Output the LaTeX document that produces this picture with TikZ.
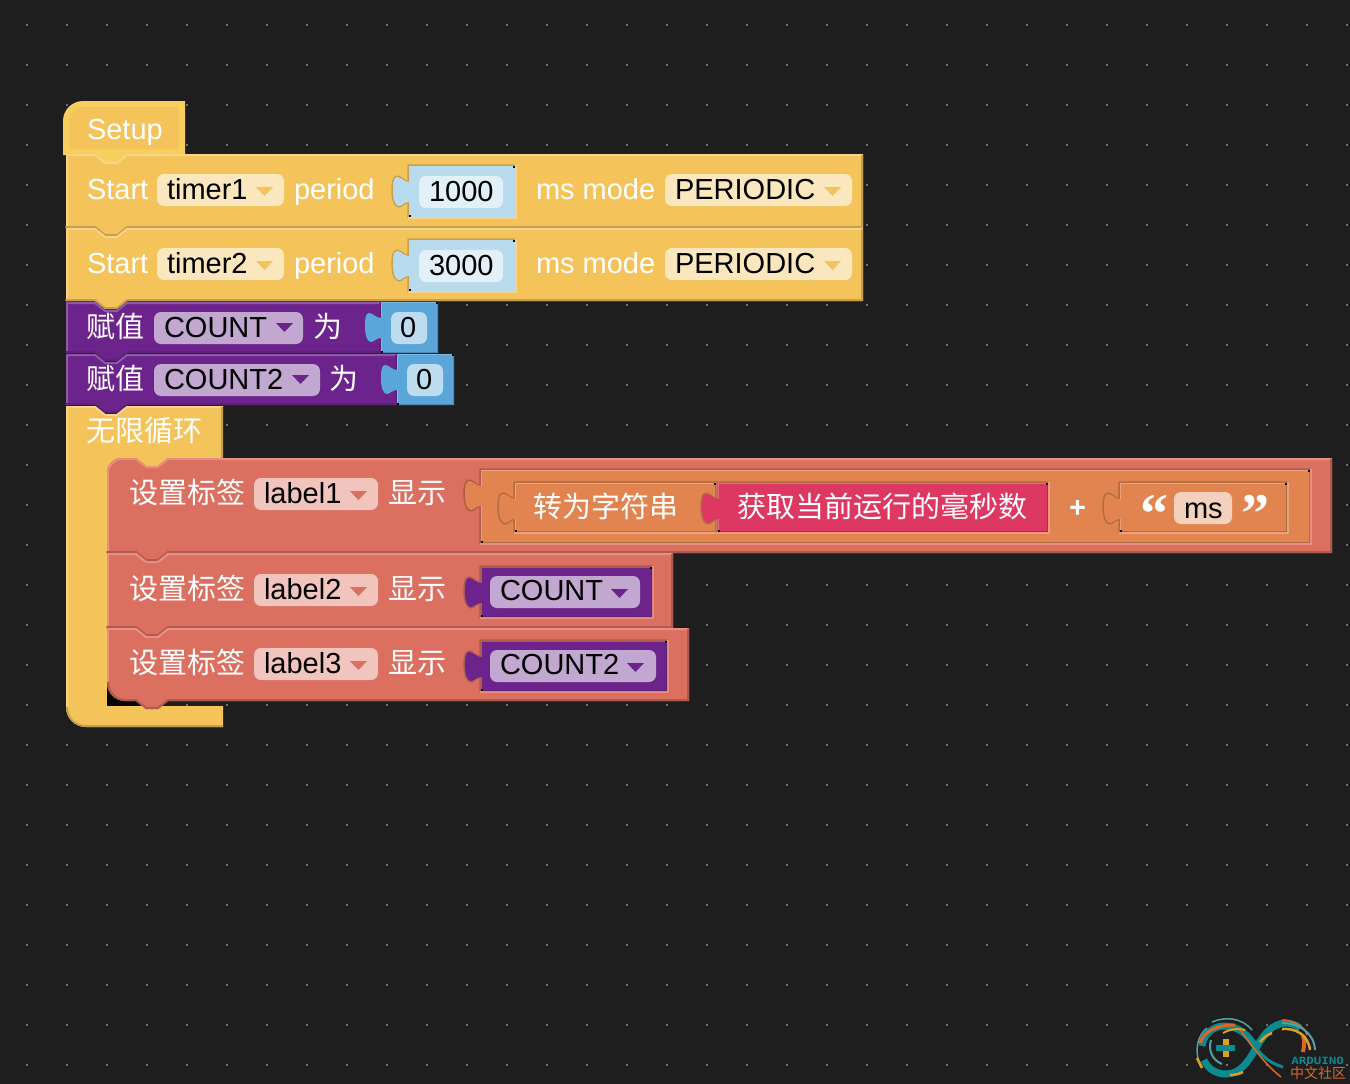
\documentclass[tikz,border=0pt]{standalone}
\usepackage{fontspec}
\setmainfont{Liberation Sans}
\newfontfamily\cjkf{Noto Sans CJK SC}
\newfontfamily\quotef{Liberation Serif}
\newfontfamily\logof{DejaVu Sans Mono}
\definecolor{bgc}{HTML}{1E1E1E}
\definecolor{dotc}{HTML}{707070}
\definecolor{yel}{HTML}{F4C35A}
\definecolor{yell}{HTML}{F8D48A}
\definecolor{yeld}{HTML}{C6A051}
\definecolor{yelring}{HTML}{F7CF5E}
\definecolor{pur}{HTML}{6C238B}
\definecolor{purl}{HTML}{8C5AA6}
\definecolor{purd}{HTML}{5C2378}
\definecolor{pfld}{HTML}{C2A7D1}
\definecolor{blu}{HTML}{5AA6D9}
\definecolor{blul}{HTML}{7CB8E2}
\definecolor{bluf}{HTML}{BDDCF0}
\definecolor{blud}{HTML}{4A87B4}
\definecolor{lblu}{HTML}{B8DBEE}
\definecolor{lbluf}{HTML}{E2F0F9}
\definecolor{red1}{HTML}{DB6F60}
\definecolor{redl}{HTML}{E79082}
\definecolor{redd}{HTML}{AF5A4E}
\definecolor{redf}{HTML}{F1C4BE}
\definecolor{org}{HTML}{E1844F}
\definecolor{orgl}{HTML}{EBA47E}
\definecolor{orgd}{HTML}{B06D43}
\definecolor{orgf}{HTML}{F4D1BC}
\definecolor{cri}{HTML}{DC3862}
\definecolor{cril}{HTML}{E8678A}
\definecolor{crid}{HTML}{AE2C4E}
\definecolor{yfld}{HTML}{FBE7BE}
\definecolor{lteal}{HTML}{0B8A8F}
\definecolor{lteal2}{HTML}{4FA3A8}
\definecolor{lorg}{HTML}{D9682A}
\definecolor{lgold}{HTML}{D9A021}
\tikzset{
  wt/.style={inner sep=0pt,outer sep=0pt,anchor=base west,text=white,font=\fontsize{29}{30}\selectfont},
  bk/.style={inner sep=0pt,outer sep=0pt,anchor=base west,text=black,font=\fontsize{29}{30}\selectfont},
  zh/.style={inner sep=0pt,outer sep=0pt,anchor=base west,text=white,font=\cjkf\fontsize{29}{30}\selectfont},
  edge/.style={line width=2pt,line join=round},
  griddot/.style={fill=dotc}
}
% stack block: x1,y1,x2,y2,top-left radius,bottom-left radius,fill,light,dark
\newcommand{\stackblock}[9]{%
  \fill[#7] (#1,#2+#5) .. controls (#1,#2+0.45*#5) and (#1+0.45*#5,#2) .. (#1+#5,#2)
    -- (#1+29,#2) -- (#1+39,#2+8) -- (#1+51,#2+8) -- (#1+61,#2) -- (#3,#2) -- (#3,#4)
    -- (#1+61,#4) -- (#1+51,#4+8) -- (#1+39,#4+8) -- (#1+29,#4)
    -- (#1+#6,#4) .. controls (#1+0.45*#6,#4) and (#1,#4-0.45*#6) .. (#1,#4-#6) -- cycle;
  \draw[edge,#8] (#1+1,#4-#6) -- (#1+1,#2+1+#5) .. controls (#1+1,#2+1+0.45*#5) and (#1+1+0.45*#5,#2+1) .. (#1+1+#5,#2+1)
    -- (#1+29,#2+1) -- (#1+39,#2+9) -- (#1+51,#2+9) -- (#1+61,#2+1) -- (#3-1,#2+1);
  \draw[edge,#9] (#3-1,#2+1) -- (#3-1,#4-1) -- (#1+61,#4-1) -- (#1+51,#4+7) -- (#1+39,#4+7) -- (#1+29,#4-1)
    -- (#1+#6,#4-1) .. controls (#1+1+0.45*#6,#4-1) and (#1+1,#4-1-0.45*#6) .. (#1+1,#4-1-#6);
}
\newcommand{\tabshape}[2]{%
  -- (#1,#2+16) .. controls (#1-5,#2+16) and (#1-8,#2+11) .. (#1-12,#2+11)
  .. controls (#1-16,#2+11) and (#1-16,#2+19) .. (#1-16,#2+25)
  .. controls (#1-16,#2+33) and (#1-14,#2+40) .. (#1-10,#2+40)
  .. controls (#1-7,#2+40) and (#1-5,#2+36) .. (#1,#2+36)}
% parent's hole edges: x1,y1,x2,y2,parent light,parent dark
\newcommand{\hole}[6]{%
  \draw[line width=1.6pt,line join=round,#6] (#1-0.8,#4+0.8) -- (#1-0.8,#2+36.5) .. controls (#1-5,#2+36.5) and (#1-7,#2+40.8) .. (#1-10,#2+40.8)
    .. controls (#1-14.5,#2+40.8) and (#1-16.8,#2+33) .. (#1-16.8,#2+25)
    .. controls (#1-16.8,#2+19) and (#1-16.8,#2+10.2) .. (#1-12,#2+10.2)
    .. controls (#1-8,#2+10.2) and (#1-5,#2+15.5) .. (#1-0.8,#2+15.5) -- (#1-0.8,#2-0.8) -- (#3+0.8,#2-0.8);
  \draw[line width=1.6pt,line join=round,#5] (#3+0.8,#2-0.8) -- (#3+0.8,#4+0.8) -- (#1-0.8,#4+0.8);
}
% value block: x1,y1,x2,y2,fill,light,dark
\newcommand{\valblock}[7]{%
  \fill[#5] (#1,#2) \tabshape{#1}{#2} -- (#1,#4) -- (#3,#4) -- (#3,#2) -- cycle;
  \draw[line width=1.2pt,#6] (#1+0.6,#4) -- (#1+0.6,#2+36);
  \draw[line width=1.2pt,#6] (#1+0.6,#2+16) -- (#1+0.6,#2+0.6) -- (#3,#2+0.6);
  \draw[line width=1.2pt,#7] (#3-0.6,#2) -- (#3-0.6,#4-0.6) -- (#1,#4-0.6);
  \fill[black] (#1,#4-1.6) rectangle (#1+1.6,#4);
  \fill[black] (#3-1.6,#2) rectangle (#3,#2+1.6);
}
\newcommand{\field}[5]{\fill[#5,rounded corners=7pt] (#1,#2) rectangle (#3,#4);}
\newcommand{\dropd}[3]{\fill[#3,line join=round] (#1,#2) -- (#1+17,#2) -- (#1+8.5,#2+9) -- cycle;}
\begin{document}
\begin{tikzpicture}[x=1pt,y=-1pt]
\useasboundingbox (0,0) rectangle (1350,1084);
\fill[bgc] (0,0) rectangle (1350,1084);
\foreach \i in {0,...,33}{\foreach \j in {0,...,26}{
  \fill[griddot] (26+40*\i,24+40*\j) rectangle (28+40*\i,26+40*\j);
}}
% hat
\fill[yelring] (63,121) .. controls (63,110) and (72,101) .. (83,101) -- (185,101) -- (185,155)
  -- (127,155) -- (116,164) -- (106,164) -- (95,155) -- (63,155) -- cycle;
\fill[yel] (69,121) .. controls (69,113) and (76,107) .. (84,107) -- (179,107) -- (179,149)
  -- (69,149) -- cycle;
\stackblock{66}{154}{863}{228}{0}{0}{yel}{yell}{yeld}
\stackblock{66}{228}{863}{301}{0}{0}{yel}{yell}{yeld}
\stackblock{66}{302}{381}{353}{0}{0}{pur}{purl}{purd}
\stackblock{66}{354}{397}{405}{0}{0}{pur}{purl}{purd}
% loop
\fill[yel] (66,406) -- (95,406) -- (105,414) -- (117,414) -- (127,406) -- (223,406) -- (223,458)
  -- (168,458) -- (158,467) -- (146,467) -- (136,458) -- (125,458) -- (125,475) -- (107,475)
  -- (107,706) -- (223,706) -- (223,727) -- (86,727)
  .. controls (75,727) and (66,718) .. (66,707) -- cycle;
\draw[edge,yell] (67,707) -- (67,407) -- (95,407) -- (105,415) -- (117,415) -- (127,407) -- (222,407);
\draw[edge,yeld] (222,407) -- (222,458);
\draw[edge,yeld] (223,726) -- (86,726) .. controls (75,726) and (67,718) .. (67,707);
\fill[black!80!bgc] (107,680) rectangle (140,706);
% statement blocks
\stackblock{107}{458}{1332}{553}{14}{0}{red1}{redl}{redd}
\stackblock{107}{553}{673}{628}{0}{0}{red1}{redl}{redd}
\stackblock{107}{628}{689}{701}{0}{18}{red1}{redl}{redd}
% value blocks
\hole{409}{166}{515}{217}{yell}{yeld}
\valblock{409}{166}{515}{217}{lblu}{lblu}{lblu}
\hole{409}{240}{515}{291}{yell}{yeld}
\valblock{409}{240}{515}{291}{lblu}{lblu}{lblu}
\valblock{381}{302}{438}{353}{blu}{blul}{blud}
\valblock{397}{354}{454}{405}{blu}{blul}{blud}
\hole{481}{470}{1310}{543}{redl}{redd}
\valblock{481}{470}{1310}{543}{org}{orgl}{orgd}
\hole{515}{483}{716}{532}{orgl}{orgd}
\valblock{515}{483}{716}{532}{org}{orgl}{orgd}
\hole{718}{483}{1048}{532}{orgl}{orgd}
\valblock{718}{483}{1048}{532}{cri}{cril}{crid}
\hole{1120}{483}{1287}{532}{orgl}{orgd}
\valblock{1120}{483}{1287}{532}{org}{orgl}{orgd}
\hole{481}{567}{652}{617}{redl}{redd}
\valblock{481}{567}{652}{617}{pur}{purl}{purd}
\hole{481}{641}{667}{691}{redl}{redd}
\valblock{481}{641}{667}{691}{pur}{purl}{purd}
% fields
\field{157}{174}{284}{206}{yfld}\dropd{256}{187}{yel}
\field{665}{174}{852}{206}{yfld}\dropd{824}{187}{yel}
\field{157}{248}{284}{280}{yfld}\dropd{256}{261}{yel}
\field{665}{248}{852}{280}{yfld}\dropd{824}{261}{yel}
\field{419}{176}{503}{208}{lbluf}
\field{419}{250}{503}{282}{lbluf}
\field{154}{312}{303}{344}{pfld}\dropd{276}{323}{pur}
\field{154}{364}{320}{396}{pfld}\dropd{292}{375}{pur}
\field{391}{312}{427}{344}{bluf}
\field{407}{364}{443}{396}{bluf}
\field{254}{478}{378}{510}{redf}\dropd{350}{491}{red1}
\field{254}{574}{378}{606}{redf}\dropd{350}{587}{red1}
\field{254}{648}{378}{680}{redf}\dropd{350}{661}{red1}
\field{490}{576}{640}{608}{pfld}\dropd{611}{589}{pur}
\field{490}{650}{656}{682}{pfld}\dropd{627}{663}{pur}
\field{1174}{492}{1232}{524}{orgf}
% texts
\node[wt] (tsetup) at (87,139) {Setup};
\node[wt] (ts1) at (87,199) {Start};
\node[bk] (tt1) at (167,199) {timer1};
\node[wt] (tp1) at (294,199) {period};
\node[bk] (tv1) at (429,201) {1000};
\node[wt] (tm1) at (536,199) {ms mode};
\node[bk] (tq1) at (675,199) {PERIODIC};
\node[wt] (ts2) at (87,273) {Start};
\node[bk] (tt2) at (167,273) {timer2};
\node[wt] (tp2) at (294,273) {period};
\node[bk] (tv2) at (429,275) {3000};
\node[wt] (tm2) at (536,273) {ms mode};
\node[bk] (tq2) at (675,273) {PERIODIC};
\node[zh] (ta1) at (86,337) {赋值};
\node[bk] (tc1) at (164,337) {COUNT};
\node[zh] (tw1) at (313,337) {为};
\node[bk] (tz1) at (400,337) {0};
\node[zh] (ta2) at (86,389) {赋值};
\node[bk] (tc2) at (164,389) {COUNT2};
\node[zh] (tw2) at (329,389) {为};
\node[bk] (tz2) at (416,389) {0};
\node[zh] (tloop) at (86,441) {无限循环};
\node[zh] (tl1) at (129,503) {设置标签};
\node[bk] (tn1) at (264,503) {label1};
\node[zh] (td1) at (388,503) {显示};
\node[zh] (tl2) at (129,599) {设置标签};
\node[bk] (tn2) at (264,599) {label2};
\node[zh] (td2) at (388,599) {显示};
\node[zh] (tl3) at (129,673) {设置标签};
\node[bk] (tn3) at (264,673) {label3};
\node[zh] (td3) at (388,673) {显示};
\node[zh] (tconv) at (533,517) {转为字符串};
\node[zh] (tmil) at (737,517) {获取当前运行的毫秒数};
\node[wt,font=\bfseries\fontsize{29}{30}\selectfont] (tplus) at (1069,517) {+};
\node[wt,font=\quotef\bfseries\fontsize{56}{56}\selectfont] (tql) at (1140,532) {“};
\node[bk] (tms) at (1184,518) {ms};
\node[wt,font=\quotef\bfseries\fontsize{56}{56}\selectfont] (tqr) at (1241,532) {”};
\node[bk] (tcv1) at (500,600) {COUNT};
\node[bk] (tcv2) at (500,674) {COUNT2};
% logo
\begin{scope}[line cap=butt]
\draw[lteal,line width=7pt] (1256,1048) .. controls (1248,1034) and (1238,1026) .. (1224,1026)
  .. controls (1212,1026) and (1203,1036) .. (1202,1046);
\draw[lteal,line width=7pt] (1204,1060) .. controls (1208,1069) and (1216,1074) .. (1226,1074)
  .. controls (1240,1074) and (1248,1062) .. (1256,1048)
  .. controls (1264,1034) and (1272,1024) .. (1285,1023) .. controls (1291,1023) and (1296,1025) .. (1300,1028);
\draw[lteal,line width=3pt] (1256,1048) .. controls (1264,1058) and (1272,1064) .. (1283,1067);
\draw[lteal2,line width=1.5pt] (1199,1062) .. controls (1195,1050) and (1197,1036) .. (1207,1028);
\draw[lteal2,line width=1.5pt] (1212,1022) .. controls (1226,1016) and (1242,1018) .. (1252,1030);
\draw[lteal2,line width=2pt] (1211,1040) .. controls (1208,1050) and (1212,1060) .. (1222,1064);
\draw[lorg,line width=3pt] (1200,1043) .. controls (1204,1032) and (1215,1025) .. (1235,1025);
\draw[lgold,line width=2pt] (1223,1033) .. controls (1230,1029) and (1238,1028) .. (1245,1030);
\draw[lorg,line width=1.5pt] (1240,1030) .. controls (1250,1042) and (1262,1062) .. (1281,1077);
\draw[lgold,line width=2.5pt] (1230,1075) .. controls (1235,1075) and (1239,1074) .. (1243,1072);
\draw[lgold,line width=2.5pt] (1197,1058) -- (1202,1068);
\draw[lorg,line width=1.5pt] (1282,1020) .. controls (1292,1020) and (1305,1026) .. (1307,1035);
\draw[lorg,line width=4pt] (1303,1036) .. controls (1305,1041) and (1304,1047) .. (1303,1052);
\draw[lgold,line width=2.5pt] (1282,1029) .. controls (1295,1028) and (1308,1034) .. (1310,1050);
\draw[lteal2,line width=2pt] (1282,1023) .. controls (1298,1023) and (1314,1032) .. (1315,1050);
\draw[lgold,line width=2.5pt] (1260,1042) .. controls (1263,1038) and (1267,1035) .. (1272,1033);
\fill[lteal] (1216,1045) rectangle (1235,1051);
\fill[lgold] (1223,1039) rectangle (1229,1045);
\fill[lgold] (1223,1051) rectangle (1229,1057);
\end{scope}
\node[inner sep=0pt,anchor=base west,text=lteal,xscale=1.25,font=\logof\bfseries\fontsize{10}{11}\selectfont] (tard) at (1291,1064) {ARDUINO};
\node[inner sep=0pt,anchor=base west,text=lorg,font=\cjkf\fontsize{14}{14}\selectfont] (tcom) at (1290,1078) {中文社区};
\end{tikzpicture}
\end{document}
